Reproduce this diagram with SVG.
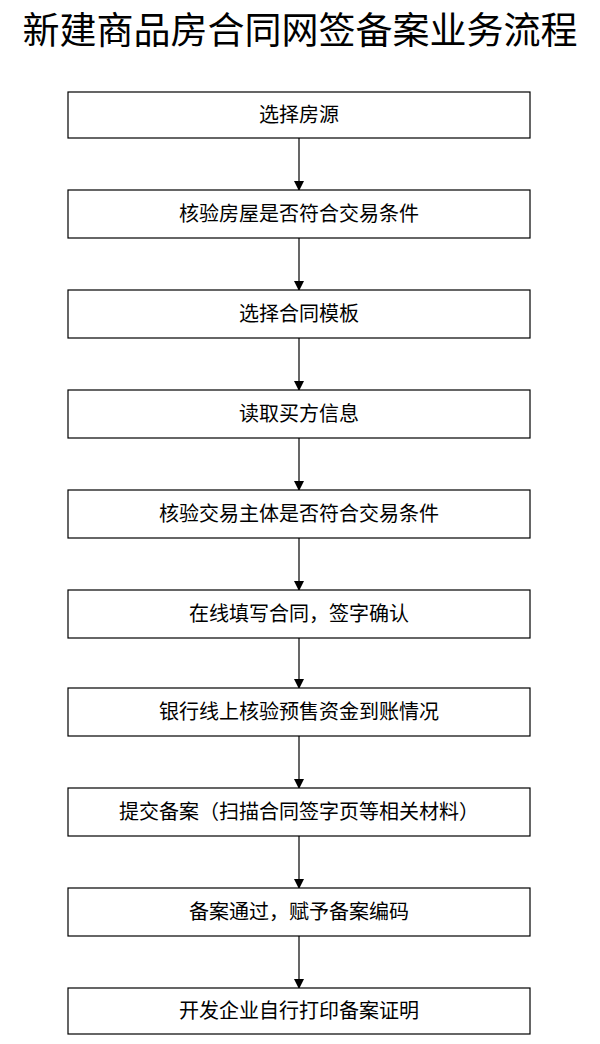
<svg xmlns="http://www.w3.org/2000/svg" width="600" height="1044" viewBox="0 0 600 1044">
<style>
.b{fill:#fff;stroke:#000;stroke-width:1.2}
.t{font-family:"Noto Sans CJK SC",sans-serif;font-size:20px;text-anchor:middle;fill:#000}
.c{stroke:#000;stroke-width:1.2;fill:none;marker-end:url(#a)}
</style>
<defs><marker id="a" markerWidth="10" markerHeight="10" refX="9" refY="5" orient="auto" markerUnits="userSpaceOnUse"><path d="M0,0 L10,5 L0,10 z" fill="#000"/></marker></defs>
<rect width="600" height="1044" fill="#fff"/>
<text x="300" y="44" style="font-family:'Noto Sans CJK SC',sans-serif;font-size:37px;text-anchor:middle">新建商品房合同网签备案业务流程</text>
<g id="connectors">
<path class="c" d="M299,138 V190"/><path class="c" d="M299,238 V290"/><path class="c" d="M299,338 V390"/><path class="c" d="M299,438 V490"/><path class="c" d="M299,538 V590"/><path class="c" d="M299,638 V688"/><path class="c" d="M299,736 V788"/><path class="c" d="M299,836 V888"/><path class="c" d="M299,936 V988"/>
</g>
<g id="n1"><rect class="b" x="68" y="92" width="462" height="46"/><text class="t" x="299" y="122">选择房源</text></g>
<g id="n2"><rect class="b" x="68" y="190" width="462" height="48"/><text class="t" x="299" y="221">核验房屋是否符合交易条件</text></g>
<g id="n3"><rect class="b" x="68" y="290" width="462" height="48"/><text class="t" x="299" y="321">选择合同模板</text></g>
<g id="n4"><rect class="b" x="68" y="390" width="462" height="48"/><text class="t" x="299" y="421">读取买方信息</text></g>
<g id="n5"><rect class="b" x="68" y="490" width="462" height="48"/><text class="t" x="299" y="521">核验交易主体是否符合交易条件</text></g>
<g id="n6"><rect class="b" x="68" y="590" width="462" height="48"/><text class="t" x="299" y="621">在线填写合同，签字确认</text></g>
<g id="n7"><rect class="b" x="68" y="688" width="462" height="48"/><text class="t" x="299" y="719">银行线上核验预售资金到账情况</text></g>
<g id="n8"><rect class="b" x="68" y="788" width="462" height="48"/><text class="t" x="299" y="819">提交备案（扫描合同签字页等相关材料）</text></g>
<g id="n9"><rect class="b" x="68" y="888" width="462" height="48"/><text class="t" x="299" y="919">备案通过，赋予备案编码</text></g>
<g id="n10"><rect class="b" x="68" y="988" width="462" height="46"/><text class="t" x="299" y="1018">开发企业自行打印备案证明</text></g>
</svg>
